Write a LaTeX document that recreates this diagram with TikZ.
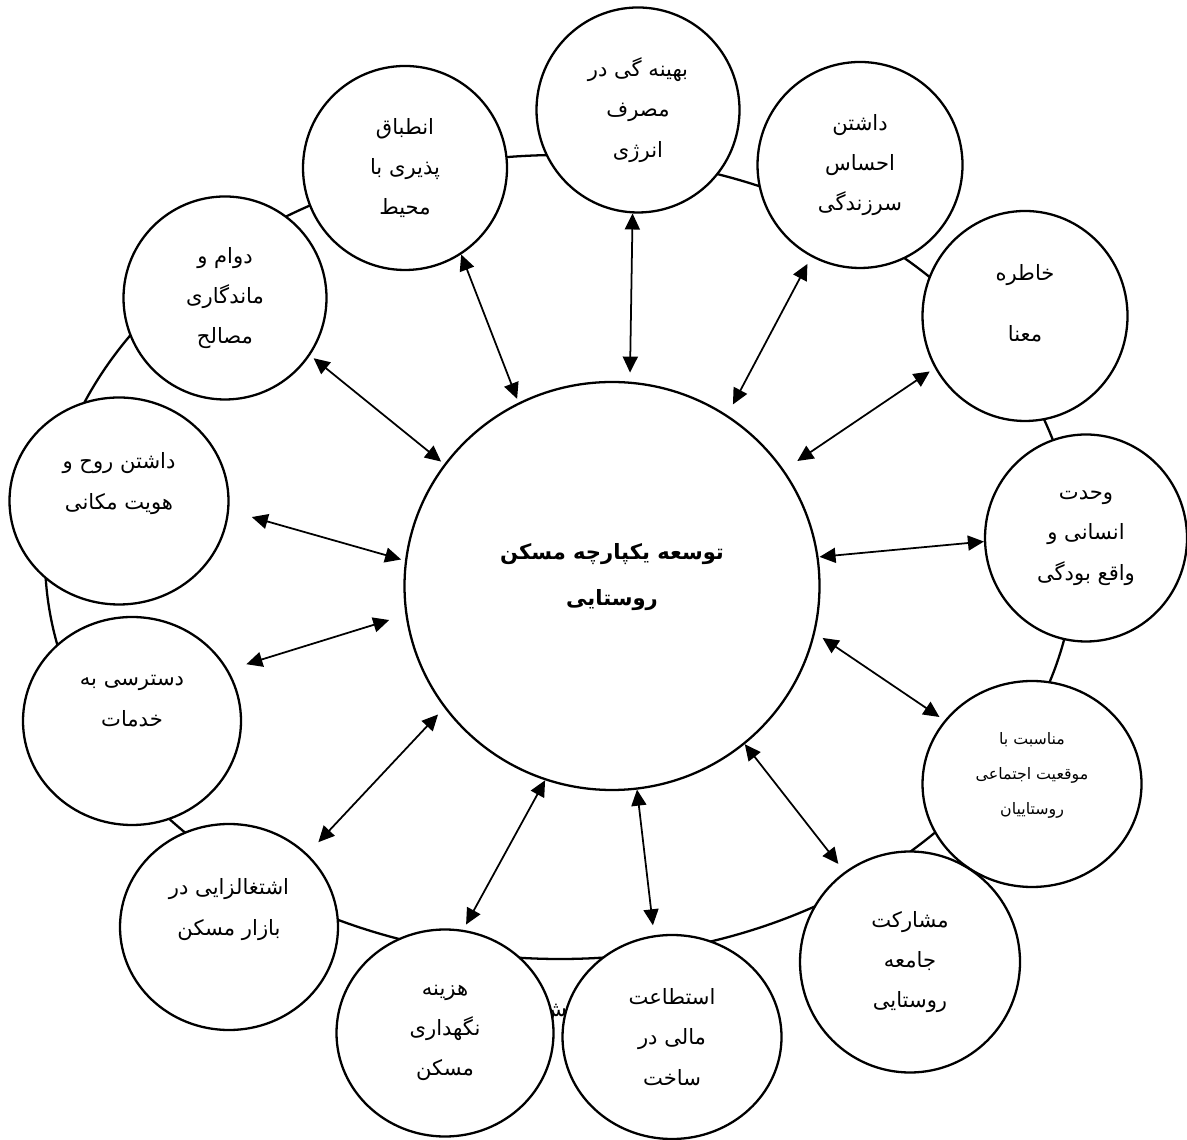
\documentclass[tikz,border=0pt]{standalone}
\usepackage{fontspec}
\newfontfamily\farsi[Script=Arabic]{DejaVu Sans}
\TeXXeTstate=1
\usetikzlibrary{arrows.meta, shapes.geometric}
\newcommand{\fa}[1]{\beginR #1\endR}
\tikzset{
  bub/.style={ellipse, draw=black, fill=white, line width=1.3pt, align=center, inner sep=0pt,
              font=\farsi\fontsize{12}{23}\selectfont},
  core/.style={bub, font=\farsi\bfseries\fontsize{12}{26}\selectfont},
  ring/.style={draw=black, line width=1.3pt},
  arr/.style={{Triangle[length=3.2mm,width=3mm]}-{Triangle[length=3.2mm,width=3mm]}, line width=1pt},
}

\begin{document}
\begin{tikzpicture}[x=1cm, y=1cm]
\fill[white] (0,0) rectangle (23.74,22.78);
\useasboundingbox (0,0) rectangle (23.74,22.78);

% ---------------- outer ring ----------------
\draw[ring] (11.20,11.64) ellipse [x radius=10.30, y radius=8.04];
\node[font=\farsi\fontsize{12}{23}\selectfont, inner sep=0pt] (stray) at (11.08,2.52) {\fa{ش}};

% ---------------- centre ----------------
\node[core, minimum width=8.30cm, minimum height=8.16cm] (core) at (12.24,11.06)
  {\fa{توسعه یکپارچه مسکن}\\\fa{روستایی}\\[-13pt]\mbox{}};

% ---------------- satellites ----------------
\node[bub, minimum width=4.08cm, minimum height=4.08cm] (adapt) at (8.10,19.42)
  {\fa{انطباق}\\\fa{پذیری با}\\\fa{محیط}};
\node[bub, minimum width=4.06cm, minimum height=4.10cm] (energy) at (12.76,20.58)
  {\fa{بهینه گی در}\\\fa{مصرف}\\\fa{انرژی}};
\node[bub, minimum width=4.10cm, minimum height=4.12cm] (vital) at (17.20,19.48)
  {\fa{داشتن}\\\fa{احساس}\\\fa{سرزندگی}};
\node[bub, minimum width=4.10cm, minimum height=4.20cm] (memory) at (20.50,16.46)
  {\fa{خاطره}\\[12pt]\fa{معنا}\\[-8pt]\mbox{}};
\node[bub, minimum width=4.06cm, minimum height=4.06cm] (durab) at (4.50,16.82)
  {\fa{دوام و}\\\fa{ماندگاری}\\\fa{مصالح}};
\node[bub, minimum width=4.38cm, minimum height=4.14cm] (spirit) at (2.38,12.76)
  {\fa{داشتن روح و}\\\fa{هویت مکانی}\\\mbox{}};
\node[bub, minimum width=4.04cm, minimum height=4.14cm] (unity) at (21.72,12.02)
  {\fa{وحدت}\\\fa{انسانی و}\\\fa{واقع بودگی}};
\node[bub, minimum width=4.36cm, minimum height=4.16cm] (access) at (2.64,8.36)
  {\fa{دسترسی به}\\\fa{خدمات}\\\mbox{}};
\node[bub, minimum width=4.38cm, minimum height=4.12cm, font=\farsi\fontsize{9}{20}\selectfont] (social) at (20.64,7.10)
  {\fa{مناسبت با}\\\fa{موقعیت اجتماعی}\\\fa{روستاییان}\\[-8pt]\mbox{}};
\node[bub, minimum width=4.36cm, minimum height=4.12cm] (jobs) at (4.58,4.24)
  {\fa{اشتغالزایی در}\\\fa{بازار مسکن}\\\mbox{}};
\node[bub, minimum width=4.40cm, minimum height=4.42cm] (partic) at (18.20,3.54)
  {\fa{مشارکت}\\\fa{جامعه}\\\fa{روستایی}};
\node[bub, minimum width=4.34cm, minimum height=4.14cm] (upkeep) at (8.90,2.12)
  {\fa{هزینه}\\\fa{نگهداری}\\\fa{مسکن}};
\node[bub, minimum width=4.38cm, minimum height=4.08cm] (afford) at (13.44,2.04)
  {\fa{استطاعت}\\\fa{مالی در}\\\fa{ساخت}};

% ---------------- links ----------------
\foreach \s/\a/\b/\p/\q in {adapt/-57/117/0/0.08, energy/-93/85/0/0.18, vital/-118/56/0.16/0.24,
    memory/-150/34/0.12/0.32, durab/-34/144/0.09/0.08, spirit/-5/173/0.47/0.08,
    unity/182/8/0/0.02, access/28/188/0.38/0.34, social/144/-13/0.12/0.18,
    jobs/43/-144/0.32/0.18, partic/126/-50/0.2/0, upkeep/80/-109/0.12/0,
    afford/100/-83/0.2/0} {
  \draw[arr, shorten <=\p cm, shorten >=\q cm] (\s.\a) -- (core.\b);
}

\end{tikzpicture}
\end{document}
